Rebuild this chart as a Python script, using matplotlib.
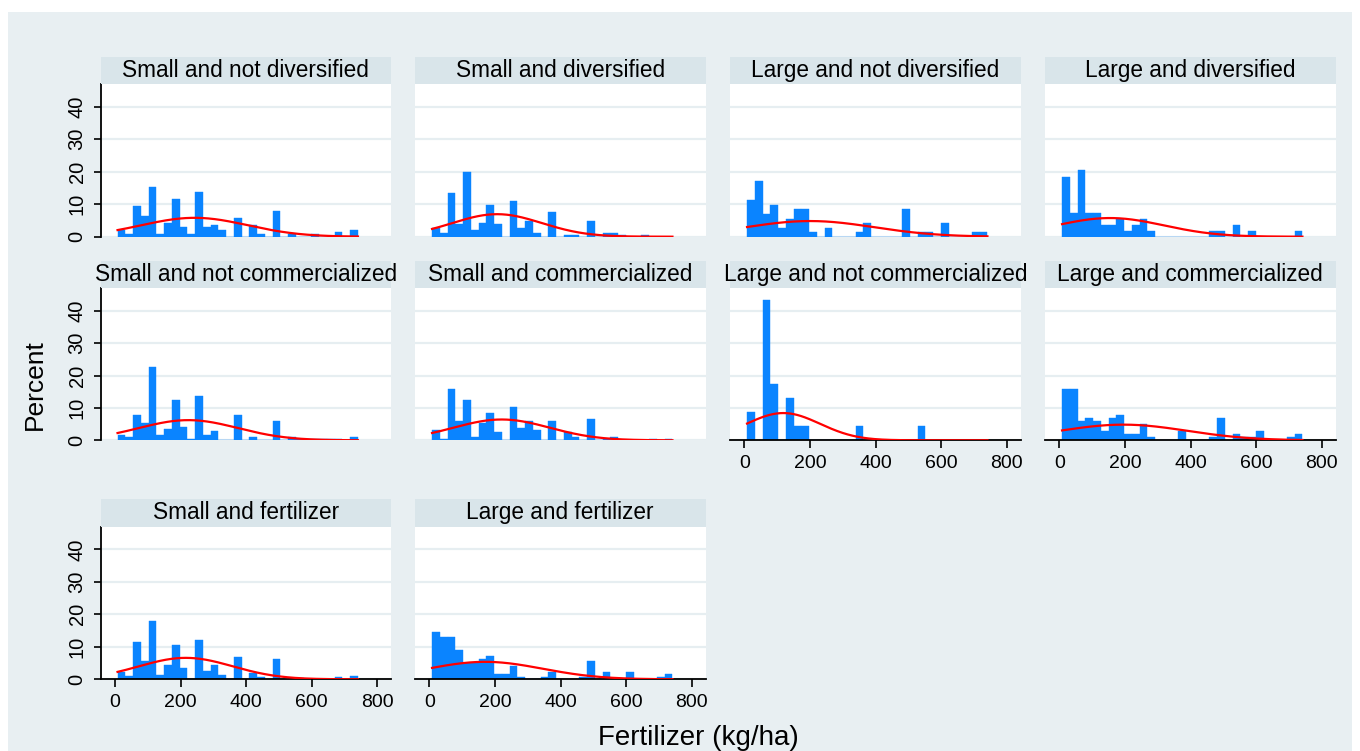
import numpy as np
import matplotlib
matplotlib.use("Agg")
import matplotlib.pyplot as plt
from matplotlib.patches import Rectangle

plt.rcParams['font.family'] = ['Liberation Sans', 'DejaVu Sans']

# common histogram bins (kg/ha)
bin_start = 8.0
bin_width = 23.65
n_bins = 31

titles = [
    "Small and not diversified", "Small and diversified",
    "Large and not diversified", "Large and diversified",
    "Small and not commercialized", "Small and commercialized",
    "Large and not commercialized", "Large and commercialized",
    "Small and fertilizer", "Large and fertilizer",
]

# percent of farms per bin
small_not_div = [2.1, 0.7, 9.5, 6.4, 15.3, 0.7, 4.3, 11.6, 3.0, 0.7, 13.7, 3.0, 3.6, 2.2, 0,
                 5.9, 0, 3.6, 0.7, 0, 7.9, 0, 0.8, 0, 0, 0.7, 0, 0, 1.4, 0, 2.2]
small_div = [2.6, 1.0, 13.3, 4.0, 20.0, 2.1, 4.3, 9.9, 3.8, 0, 11.0, 2.8, 4.9, 1.0, 0,
             7.6, 0, 0.5, 0.5, 0, 4.8, 0, 1.0, 1.0, 0.5, 0, 0, 0.5, 0, 0, 0]
large_not_div = [11.3, 17.0, 7.1, 9.9, 2.8, 5.6, 8.5, 8.5, 1.4, 0, 2.8, 0, 0, 0, 1.4,
                 4.2, 0, 0, 0, 0, 8.5, 0, 1.4, 1.4, 0, 4.2, 0, 0, 0, 1.4, 1.4]
large_div = [18.5, 7.4, 20.4, 7.4, 7.4, 3.7, 3.7, 5.6, 1.85, 3.7, 5.6, 1.85, 0, 0, 0,
             0, 0, 0, 0, 1.85, 1.85, 0, 3.7, 0, 1.85, 0, 0, 0, 0, 0, 1.85]
small_not_com = [1.75, 1.1, 7.7, 5.4, 22.7, 1.75, 3.5, 12.5, 4.1, 0.5, 13.7, 1.75, 3.0, 0, 0,
                 7.7, 0, 1.1, 0, 0, 6.0, 0, 1.1, 0.5, 0.5, 0.5, 0.5, 0.5, 0.5, 0, 1.1]
small_com = [3.1, 0.5, 15.8, 5.9, 12.5, 1.1, 5.2, 8.5, 2.6, 0, 10.4, 3.9, 5.9, 3.2, 0,
             5.9, 0, 2.6, 1.1, 0, 6.5, 0, 0.5, 1.1, 0, 0, 0, 0, 0.5, 0, 0.5]
large_not_com = [8.7, 0, 43.5, 17.4, 0, 13.0, 4.35, 4.35, 0, 0, 0, 0, 0, 0, 4.35,
                 0, 0, 0, 0, 0, 0, 0, 4.35, 0, 0, 0, 0, 0, 0, 0, 0]
large_com = [15.9, 15.9, 6.0, 6.9, 6.0, 3.0, 6.9, 7.9, 2.0, 2.0, 5.0, 1.0, 0, 0, 0,
             3.0, 0, 0, 0, 1.0, 6.9, 0, 2.0, 1.0, 1.0, 3.0, 0, 0, 0, 1.0, 2.0]
small_fert = [2.2, 0.9, 11.6, 5.6, 17.9, 1.4, 4.4, 10.7, 3.4, 0, 12.2, 2.7, 4.4, 1.4, 0,
              6.9, 0, 1.9, 0.6, 0, 6.2, 0, 0.4, 0.4, 0, 0, 0, 0, 0.6, 0, 0.9]
large_fert = [14.6, 13.1, 13.1, 8.9, 5.0, 5.0, 6.4, 7.3, 1.6, 1.6, 4.1, 0.6, 0, 0, 0.6,
              2.4, 0, 0, 0, 0.6, 5.6, 0, 2.3, 0, 0, 2.3, 0, 0, 0, 0.6, 1.6]

series = [small_not_div, small_div, large_not_div, large_div,
          small_not_com, small_com, large_not_com, large_com,
          small_fert, large_fert]

x_ticks = [0, 200, 400, 600, 800]
y_ticks = [0, 10, 20, 30, 40]

BG = '#e8eff2'
STRIP = '#d9e5ea'
GRID = '#e6eef1'
BAR = '#0a84ff'

W, H = 1360, 751
fig = plt.figure(figsize=(W / 100, H / 100), dpi=100, facecolor='white')
fig.add_artist(Rectangle((8 / W, 0), (1352 - 8) / W, (H - 12) / H,
                         transform=fig.transFigure, facecolor=BG, edgecolor='none', zorder=-10))

col_left = [100.5, 415, 730, 1045]
panel_w = 290.5
row_top = [84, 288.3, 526.7]
row_bot = [236.7, 440.3, 679.3]
strip_h = 27.5

edges = bin_start + bin_width * np.arange(n_bins + 1)
mids = edges[:-1] + bin_width / 2
with_xaxis = {6, 7, 8, 9}

for i, (title, vals) in enumerate(zip(titles, series)):
    r, c = divmod(i, 4)
    x0 = col_left[c]
    top, bot = row_top[r], row_bot[r]
    ax = fig.add_axes([x0 / W, 1 - bot / H, panel_w / W, (bot - top) / H])
    ax.set_facecolor('white')
    vals = np.array(vals, dtype=float)

    ax.bar(edges[:-1], vals, width=bin_width, align='edge', color=BAR,
           edgecolor=BAR, linewidth=0.3, zorder=2)

    # normal density with the same mean and sd, scaled to percent per bin
    mu = np.sum(mids * vals) / vals.sum()
    sd = np.sqrt(np.sum(vals * (mids - mu) ** 2) / vals.sum())
    xs = np.linspace(edges[0], edges[-1], 300)
    dens = np.exp(-0.5 * ((xs - mu) / sd) ** 2) / (sd * np.sqrt(2 * np.pi))
    ax.plot(xs, 100 * bin_width * dens, color='red', lw=1.6, zorder=4)

    ax.set_xlim(-44, 842)
    ax.set_ylim(0, 47)
    ax.set_yticks(y_ticks)
    ax.yaxis.grid(True, color=GRID, lw=1.6, zorder=0)
    ax.set_axisbelow(True)
    for s in ['top', 'right']:
        ax.spines[s].set_visible(False)

    if c == 0:
        ax.spines['left'].set_linewidth(1.3)
        ax.tick_params(axis='y', length=5, width=1.2, labelsize=14.5, pad=5)
        for lab in ax.get_yticklabels():
            lab.set_rotation(90)
            lab.set_va('center')
    else:
        ax.spines['left'].set_visible(False)
        ax.tick_params(axis='y', left=False, labelleft=False)

    if i in with_xaxis:
        ax.spines['bottom'].set_linewidth(1.3)
        ax.set_xticks(x_ticks)
        ax.tick_params(axis='x', length=5.5, width=1.2, labelsize=14, pad=5)
    else:
        ax.spines['bottom'].set_visible(False)
        ax.set_xticks(x_ticks)
        ax.tick_params(axis='x', bottom=False, labelbottom=False)

    # title strip
    fig.add_artist(Rectangle((x0 / W, 1 - top / H), panel_w / W, strip_h / H,
                             transform=fig.transFigure, facecolor=STRIP,
                             edgecolor='none', zorder=1))
    fig.text((x0 + panel_w / 2) / W, 1 - (top - strip_h / 2) / H, title,
             ha='center', va='center', fontsize=16.3, color='black', zorder=2)

fig.text(35 / W, 1 - 385 / H, 'Percent', rotation=90, ha='center', va='center', fontsize=19)
fig.text(698 / W, 1 - 745 / H, 'Fertilizer (kg/ha)', ha='center', va='baseline', fontsize=20)

fig.savefig('out.png', dpi=100, facecolor='white')
